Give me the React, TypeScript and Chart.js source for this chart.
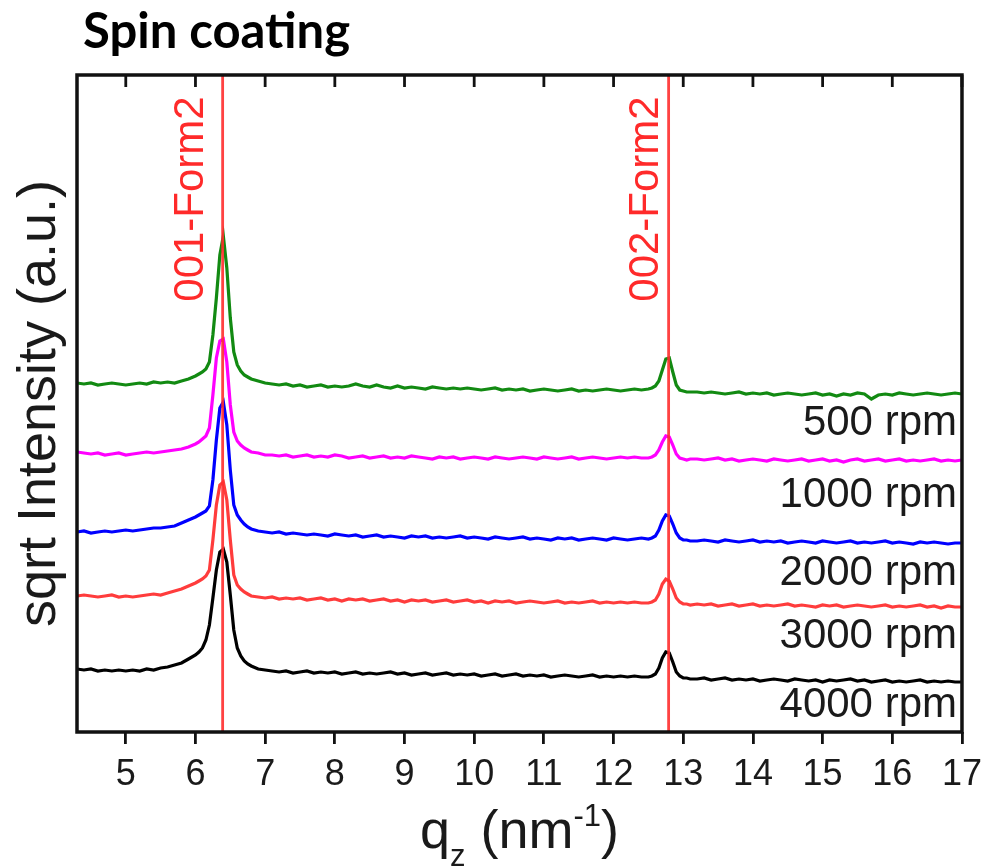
import { useEffect, useRef } from 'react';
import { Chart, registerables } from 'chart.js';

Chart.register(...registerables);

const FONT = '"Liberation Sans", Arial, Helvetica, sans-serif';

// scattering vector q_z (nm^-1)
const Q = [
  4.3, 4.4, 4.5, 4.6, 4.7, 4.8, 4.9, 5.0, 5.1, 5.2, 5.3, 5.4, 5.5, 5.6, 5.7, 5.8, 5.9,
  6.0, 6.05, 6.1, 6.15, 6.2, 6.25, 6.3, 6.35, 6.4, 6.45, 6.5, 6.55, 6.6, 6.65, 6.7, 6.75, 6.8,
  6.9, 7.0, 7.1, 7.2, 7.3, 7.4, 7.5, 7.6, 7.7, 7.8, 7.9,
  8.0, 8.1, 8.2, 8.3, 8.4, 8.5, 8.6, 8.7, 8.8, 8.9,
  9.0, 9.1, 9.2, 9.3, 9.4, 9.5, 9.6, 9.7, 9.8, 9.9,
  10.0, 10.1, 10.2, 10.3, 10.4, 10.5, 10.6, 10.7, 10.8, 10.9,
  11.0, 11.1, 11.2, 11.3, 11.4, 11.5, 11.6, 11.7, 11.8, 11.9,
  12.0, 12.1, 12.2, 12.3, 12.4,
  12.5, 12.55, 12.6, 12.65, 12.7, 12.75, 12.8, 12.85, 12.9, 12.95, 13.0, 13.05, 13.1,
  13.2, 13.3, 13.4, 13.5, 13.6, 13.7, 13.8, 13.9,
  14.0, 14.1, 14.2, 14.3, 14.4, 14.5, 14.6, 14.7, 14.8, 14.9,
  15.0, 15.1, 15.2, 15.3, 15.4, 15.5, 15.6, 15.7, 15.8, 15.9,
  16.0, 16.1, 16.2, 16.3, 16.4, 16.5, 16.6, 16.7, 16.8, 16.9,
  17.0,
];

// sqrt intensity, offset traces (a.u.)
const RPM_500 = [
  617, 616, 617, 615, 616, 617, 616, 615, 616, 617, 616, 618, 617, 618, 617, 619, 621,
  624, 626, 628, 631, 638, 665, 702, 745, 764, 732, 682, 648, 635, 629, 625, 623, 621,
  619, 617, 616, 615, 616, 614, 615, 613, 614, 615,
  613, 614, 613, 614, 616, 614, 613, 615, 613, 612,
  614, 612, 613, 612, 611, 613, 612, 611, 612, 611,
  612, 611, 610, 611, 612, 610, 611, 610, 611, 609,
  610, 611, 610, 609, 610, 611, 609, 610, 609, 610,
  611, 610, 609, 610, 611, 610,
  611, 612, 614, 619, 630, 641, 642, 628, 615, 610, 609, 608, 608,
  608, 607, 608, 607, 606, 607, 608, 606,
  607, 606, 607, 605, 606, 607, 606, 605, 606, 607,
  605, 606, 604, 606, 605, 607, 606, 601, 605, 606,
  605, 607, 606, 605, 606, 607, 606, 605, 606, 607,
  606,
];

const RPM_1000 = [
  548, 547, 546, 547, 545, 546, 547, 545, 546, 547, 548, 547, 548, 549, 550, 551, 553,
  556, 558, 561, 564, 572, 605, 642, 659, 661, 638, 595, 568, 559, 555, 552, 550, 548,
  547, 545, 545, 544, 545, 543, 544, 545, 543, 544,
  543, 545, 544, 542, 543, 544, 542, 543, 544, 542,
  543, 542, 544, 543, 542, 541, 543, 542, 543, 541,
  542, 543, 542, 541, 543, 542, 541, 542, 543, 542,
  541, 543, 542, 541, 542, 543, 541, 542, 543, 542,
  541, 542, 543, 542, 543, 542,
  542, 543, 545, 550, 558, 564, 563, 555, 546, 542, 541, 540, 541,
  541, 540, 541, 542, 540, 541, 539, 540,
  541, 540, 539, 541, 540, 539, 540, 541, 539, 540,
  541, 539, 540, 538, 540, 541, 539, 540, 541, 539,
  540, 541, 539, 540, 539, 540, 541, 539, 540, 539,
  540,
];

const RPM_2000 = [
  468, 469, 467, 468, 469, 468, 469, 470, 469, 470, 471, 472, 472, 473, 474, 477, 480,
  483, 485, 487, 489, 494, 520, 560, 592, 598, 575, 530, 495, 485, 480, 476, 473, 471,
  469, 468, 467, 468, 466, 467, 466, 465, 466, 465,
  464, 466, 465, 464, 465, 463, 464, 465, 463, 464,
  463, 462, 464, 463, 464, 462, 463, 462, 463, 464,
  462, 463, 462, 461, 463, 462, 461, 462, 463, 461,
  462, 461, 460, 462, 461, 462, 460, 461, 462, 461,
  460, 462, 461, 460, 461, 462,
  461, 462, 464, 470, 479, 485, 484, 476, 467, 462, 460, 460, 459,
  459, 460, 459, 458, 460, 459, 458, 459,
  460, 458, 459, 458, 459, 457, 458, 459, 458, 457,
  459, 458, 457, 458, 459, 457, 458, 457, 458, 459,
  457, 458, 457, 456, 458, 457, 458, 457, 456, 457,
  457,
];

const RPM_3000 = [
  404, 405, 404, 403, 404, 405, 403, 404, 403, 404, 405, 406, 405, 407, 409, 411, 414,
  417, 419, 421, 424, 430, 460, 495, 515, 518, 500, 460, 425, 415, 411, 408, 406, 404,
  403, 402, 403, 401, 402, 401, 402, 400, 401, 402,
  400, 401, 399, 401, 400, 401, 399, 400, 401, 399,
  400, 398, 400, 399, 400, 398, 399, 400, 398, 399,
  400, 398, 399, 397, 399, 398, 399, 397, 398, 399,
  398, 397, 398, 399, 397, 398, 397, 398, 399, 397,
  398, 397, 398, 397, 398, 397,
  397, 398, 400, 406, 416, 421, 419, 411, 402, 398, 396, 396, 395,
  396, 395, 396, 394, 395, 396, 394, 395,
  396, 394, 395, 394, 395, 396, 394, 395, 394, 393,
  395, 394, 395, 393, 394, 395, 394, 393, 394, 395,
  393, 394, 393, 394, 395, 393, 394, 392, 394, 393,
  393,
];

const RPM_4000 = [
  331, 330, 331, 329, 330, 329, 330, 329, 330, 329, 331, 330, 332, 333, 335, 337, 341,
  345, 348, 352, 360, 375, 402, 430, 448, 451, 438, 405, 370, 352, 344, 339, 336, 334,
  331, 330, 329, 328, 329, 327, 328, 329, 327, 328,
  327, 328, 326, 327, 328, 326, 327, 326, 327, 328,
  326, 327, 325, 326, 327, 325, 326, 327, 325, 326,
  325, 326, 324, 325, 326, 324, 325, 326, 324, 325,
  324, 325, 323, 324, 325, 324, 323, 324, 325, 323,
  324, 323, 324, 323, 324, 323,
  323, 324, 326, 332, 342, 348, 347, 338, 328, 324, 322, 322, 321,
  321, 322, 320, 321, 322, 320, 321, 320,
  321, 319, 320, 321, 320, 319, 321, 320, 319, 320,
  318, 320, 319, 320, 321, 319, 320, 318, 319, 320,
  318, 319, 318, 319, 320, 318, 319, 318, 319, 318,
  318,
];

const SERIES_NAMES = ['4000 rpm', '3000 rpm', '2000 rpm', '1000 rpm', '500 rpm'];
const SERIES_COLORS = ['#000000', '#ff3c3c', '#0000ff', '#ff00ff', '#128a12'];
const SERIES_DATA = [RPM_4000, RPM_3000, RPM_2000, RPM_1000, RPM_500];
// vertical position (a.u.) of each trace's text label
const LABEL_LEVELS = [283, 352, 415, 493, 565];

const X_TICKS = [5, 6, 7, 8, 9, 10, 11, 12, 13, 14, 15, 16, 17];
const REF_PEAKS = [6.39, 12.79];
const REF_NAMES = ['001-Form2', '002-Form2'];
const REF_LABEL_SHIFT = [-20, -11];

const overlay = {
  id: 'overlay',
  afterDatasetsDraw(chart: any) {
    const { ctx, chartArea: ca, scales } = chart;
    const x = scales.x;
    const y = scales.y;
    ctx.save();
    // reference peak positions
    ctx.strokeStyle = 'rgba(255,45,45,0.9)';
    ctx.lineWidth = 2.8;
    REF_PEAKS.forEach((q, i) => {
      const px = x.getPixelForValue(q);
      ctx.beginPath();
      ctx.moveTo(px, ca.top);
      ctx.lineTo(px, ca.bottom);
      ctx.stroke();
      ctx.save();
      ctx.translate(px + REF_LABEL_SHIFT[i], ca.top + 124);
      ctx.rotate(-Math.PI / 2);
      ctx.fillStyle = '#ff2a2a';
      ctx.font = `42px ${FONT}`;
      ctx.textAlign = 'center';
      ctx.textBaseline = 'alphabetic';
      ctx.fillText(REF_NAMES[i], 0, 0);
      ctx.restore();
    });
    // trace labels
    ctx.fillStyle = '#1a1a1a';
    ctx.font = `42px ${FONT}`;
    ctx.textAlign = 'right';
    ctx.textBaseline = 'alphabetic';
    SERIES_NAMES.forEach((name, i) => {
      ctx.fillText(name, ca.right - 5, y.getPixelForValue(LABEL_LEVELS[i]));
    });
    // top inward ticks
    ctx.strokeStyle = '#111';
    ctx.lineWidth = 2.8;
    x.ticks.forEach((t: any) => {
      const px = x.getPixelForValue(t.value);
      ctx.beginPath();
      ctx.moveTo(px, ca.top);
      ctx.lineTo(px, ca.top + 12);
      ctx.stroke();
    });
    // frame
    ctx.lineWidth = 3.5;
    ctx.strokeStyle = '#111';
    ctx.strokeRect(ca.left, ca.top, ca.right - ca.left, ca.bottom - ca.top);
    ctx.restore();
  },
  afterDraw(chart: any) {
    const { ctx, chartArea: ca } = chart;
    ctx.save();
    // title
    ctx.fillStyle = '#000';
    ctx.font = `bold 49px Lato, "Open Sans", ${FONT}`;
    ctx.textAlign = 'left';
    ctx.textBaseline = 'alphabetic';
    ctx.fillText('Spin coating', 83, 48);
    // x axis title with sub/superscript
    const parts = [
      { t: 'q', size: 54, dy: 0 },
      { t: 'z', size: 31, dy: 18 },
      { t: ' (nm', size: 54, dy: 0 },
      { t: '-1', size: 31, dy: -22 },
      { t: ')', size: 54, dy: 0 },
    ];
    let total = 0;
    const widths = parts.map((p) => {
      ctx.font = `${p.size}px ${FONT}`;
      const w = ctx.measureText(p.t).width;
      total += w;
      return w;
    });
    let cx = (ca.left + ca.right) / 2 - total / 2;
    const base = 848;
    ctx.fillStyle = '#1a1a1a';
    parts.forEach((p, i) => {
      ctx.font = `${p.size}px ${FONT}`;
      ctx.fillText(p.t, cx, base + p.dy);
      cx += widths[i];
    });
    ctx.restore();
  },
};

export default function App() {
  const ref = useRef<HTMLCanvasElement>(null);
  useEffect(() => {
    const datasets = SERIES_DATA.map((vals, i) => ({
      label: SERIES_NAMES[i],
      data: Q.map((q, j) => ({ x: q, y: vals[j] })),
      borderColor: SERIES_COLORS[i],
      backgroundColor: SERIES_COLORS[i],
      borderWidth: 3.2,
      pointRadius: 0,
      tension: 0,
      fill: false,
    }));
    const chart = new Chart(ref.current as HTMLCanvasElement, {
      type: 'line',
      data: { datasets },
      options: {
        animation: false,
        responsive: false,
        devicePixelRatio: 1,
        layout: { padding: { top: 75, right: 24, left: 0, bottom: 0 } },
        plugins: { legend: { display: false }, tooltip: { enabled: false }, title: { display: false } },
        scales: {
          x: {
            type: 'linear',
            min: 4.3,
            max: 17,
            afterBuildTicks: (s: any) => {
              s.ticks = X_TICKS.map((v) => ({ value: v }));
            },
            afterFit: (s: any) => {
              s.height = 136;
            },
            ticks: {
              autoSkip: false,
              maxRotation: 0,
              padding: 9,
              color: '#1a1a1a',
              font: { family: FONT, size: 36 },
              callback: (v: any) => String(v),
            },
            grid: {
              display: true,
              drawOnChartArea: false,
              drawTicks: true,
              tickLength: 12,
              color: '#111',
              lineWidth: 2.8,
            },
            border: { display: false },
            title: { display: false },
          },
          y: {
            type: 'linear',
            min: 268,
            max: 925,
            afterFit: (s: any) => {
              s.width = 77;
            },
            ticks: { display: false },
            grid: { display: false, drawTicks: false },
            border: { display: false },
            title: {
              display: true,
              text: 'sqrt Intensity (a.u.)',
              color: '#1a1a1a',
              font: { family: FONT, size: 54 },
              padding: { top: 8, bottom: 0 },
            },
          },
        },
      },
      plugins: [overlay],
    });
    return () => chart.destroy();
  }, []);
  return (
    <div style={{ position: 'absolute', left: 0, top: 0, width: 991, height: 868, background: '#fff' }}>
      <canvas ref={ref} width={991} height={868} style={{ display: 'block' }} />
    </div>
  );
}
